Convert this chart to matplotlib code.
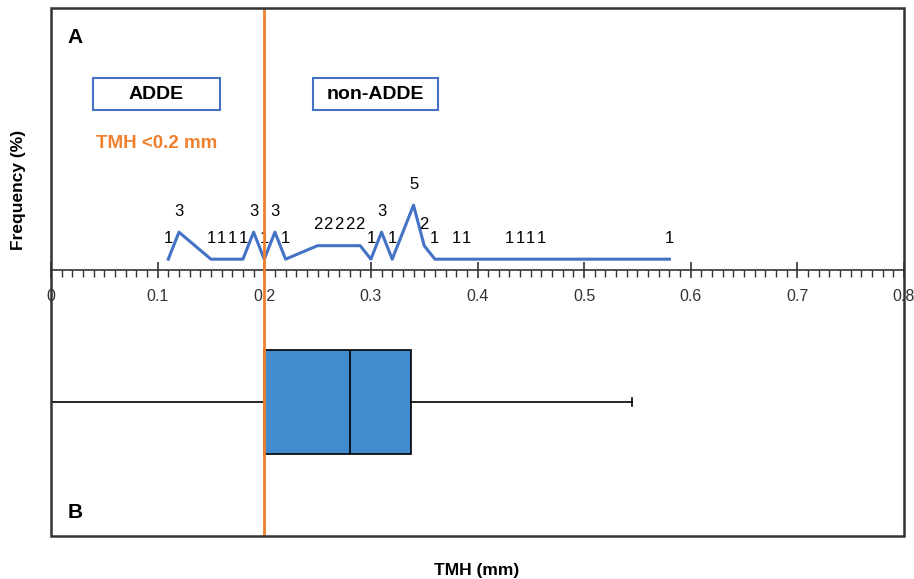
import matplotlib.pyplot as plt
from matplotlib.patches import Rectangle
from matplotlib.ticker import MultipleLocator, FuncFormatter

plt.rcParams['font.family'] = ['Liberation Sans', 'DejaVu Sans']

# frequency polygon (TMH value in mm, number of eyes)
tmh = [0.11, 0.12, 0.15, 0.16, 0.17, 0.18, 0.19, 0.20, 0.21, 0.22,
       0.25, 0.26, 0.27, 0.28, 0.29, 0.30, 0.31, 0.32, 0.34, 0.35,
       0.36, 0.38, 0.39, 0.43, 0.44, 0.45, 0.46, 0.58]
freq = [1, 3, 1, 1, 1, 1, 3, 1, 3, 1,
        2, 2, 2, 2, 2, 1, 3, 1, 5, 2,
        1, 1, 1, 1, 1, 1, 1, 1]

# box plot summary
box_stats = dict(whislo=0.0, q1=0.20, med=0.28, q3=0.338, whishi=0.545)
cutoff = 0.2

blue = '#4472C4'
orange = '#F0802E'

fig = plt.figure(figsize=(9.14, 5.79), dpi=100)
ax = fig.add_axes([51/914, 1 - 536/579, 853/914, 528/579])
ax.set_xlim(0, 0.8)
ax.set_ylim(-19.5, 19.6)

# top panel: polygon + count labels
ax.plot(tmh, freq, color=blue, lw=2.2, zorder=3)
for x, f in zip(tmh, freq):
    ax.annotate(str(f), (x, f), xytext=(0, 15), textcoords='offset points',
                ha='center', va='center', fontsize=12)

# bottom panel: box plot
ax.bxp([box_stats], positions=[-9.6], widths=7.7, orientation='horizontal',
       patch_artist=True, showfliers=False, manage_ticks=False, capwidths=0.6,
       boxprops=dict(facecolor='#428BCE', edgecolor='black', lw=1.2),
       medianprops=dict(color='black', lw=1.2),
       whiskerprops=dict(color='black', lw=1.2),
       capprops=dict(color='black', lw=1.2))

ax.axvline(cutoff, color=orange, lw=2, zorder=5)

# middle axis + outer frame
for s in ['top', 'left', 'right']:
    ax.spines[s].set_visible(False)
ax.spines['bottom'].set_position(('data', 0.2))
ax.spines['bottom'].set_color('#333333')
ax.spines['bottom'].set_linewidth(1.2)
ax.add_patch(Rectangle((0, 0), 1, 1, transform=ax.transAxes, fill=False,
                       ec='#333333', lw=1.8, clip_on=False, zorder=6))
ax.set_yticks([])
ax.xaxis.set_major_locator(MultipleLocator(0.1))
ax.xaxis.set_minor_locator(MultipleLocator(0.01))
ax.xaxis.set_major_formatter(FuncFormatter(lambda v, p: f'{v:g}'))
ax.tick_params(axis='x', which='major', direction='inout', length=12,
               width=1.2, pad=7.5, labelsize=11.5, colors='#333333')
ax.tick_params(axis='x', which='minor', direction='out', length=5,
               width=1, colors='#333333')

# annotations
ax.add_patch(Rectangle((0.0492, 0.807), 0.149, 0.0606, transform=ax.transAxes,
                       fill=False, ec=blue, lw=1.5))
ax.text(0.1237, 0.837, 'ADDE', transform=ax.transAxes, ha='center',
        va='center', fontsize=14, fontweight='bold')
ax.add_patch(Rectangle((0.307, 0.807), 0.1465, 0.0606, transform=ax.transAxes,
                       fill=False, ec=blue, lw=1.5))
ax.text(0.380, 0.837, 'non-ADDE', transform=ax.transAxes, ha='center',
        va='center', fontsize=14, fontweight='bold')
ax.text(0.124, 0.744, 'TMH <0.2 mm', transform=ax.transAxes, ha='center',
        va='center', fontsize=13.5, fontweight='bold', color=orange)
ax.text(0.028, 0.945, 'A', transform=ax.transAxes, ha='center',
        va='center', fontsize=15, fontweight='bold')
ax.text(0.028, 0.0436, 'B', transform=ax.transAxes, ha='center',
        va='center', fontsize=15, fontweight='bold')

fig.text(0.0197, 0.672, 'Frequency (%)', rotation=90, ha='center',
         va='center', fontsize=12.5, fontweight='bold')
fig.text(0.522, 0.0155, 'TMH (mm)', ha='center', va='center',
         fontsize=12.5, fontweight='bold')

fig.savefig('out.png', dpi=100)
